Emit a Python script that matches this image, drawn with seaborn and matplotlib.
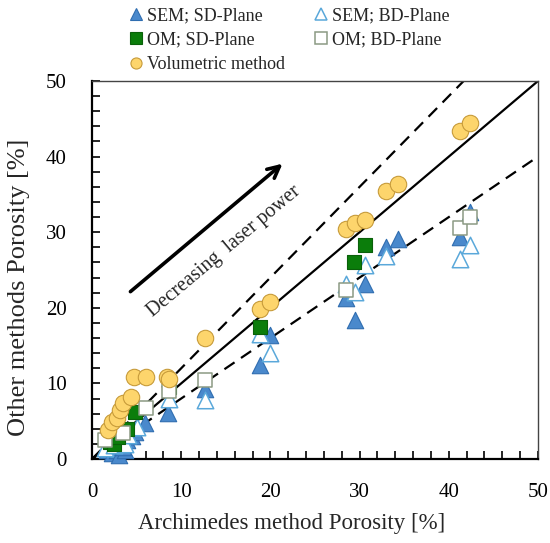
import matplotlib
matplotlib.use("Agg")
import matplotlib.pyplot as plt
import seaborn as sns
import numpy as np
import pandas as pd
from matplotlib.ticker import MultipleLocator

sns.set_theme(style="white")
plt.rcParams['font.family'] = ['Liberation Serif', 'DejaVu Serif']

# ---- data ----
sem_sd_x = [1.7, 2.2, 2.8, 3.0, 3.7, 3.5, 3.9, 4.5, 4.8, 5.9, 8.5, 12.7, 18.8, 20.0, 28.5, 29.5, 30.6, 33.0, 34.3, 41.3, 42.4]
sem_sd_y = [1.2, 0.8, 1.2, 0.5, 1.2, 1.6, 2.5, 3.0, 3.6, 4.8, 6.1, 9.3, 12.4, 16.4, 21.3, 18.4, 23.2, 28.1, 29.1, 29.3, 32.7]

sem_bd_x = [1.5, 2.5, 3.2, 3.7, 4.0, 5.0, 8.6, 12.7, 18.8, 20.0, 28.5, 29.5, 30.6, 33.0, 41.3, 42.4]
sem_bd_y = [1.5, 1.8, 2.5, 2.0, 3.2, 4.2, 8.0, 7.8, 16.6, 14.0, 23.1, 22.1, 25.7, 26.8, 26.5, 28.3]

om_sd_x = [2.0, 2.5, 2.9, 3.9, 4.8, 8.6, 18.8, 29.4, 30.6]
om_sd_y = [2.3, 2.0, 2.9, 4.0, 6.2, 9.5, 17.4, 26.1, 28.3]

om_bd_x = [1.5, 3.5, 6.1, 8.6, 12.7, 28.5, 41.3, 42.4]
om_bd_y = [2.5, 3.5, 6.7, 9.0, 10.4, 22.4, 30.6, 32.0]

vol_x = [1.8, 2.2, 2.8, 3.1, 3.5, 4.4, 4.7, 6.05, 8.4, 8.6, 12.7, 18.8, 20.0, 28.5, 29.5, 30.6, 33.0, 34.3, 41.3, 42.4]
vol_y = [3.8, 4.9, 5.4, 6.5, 7.4, 8.2, 10.9, 10.8, 10.9, 10.6, 16.0, 19.9, 20.8, 30.4, 31.2, 31.6, 35.5, 36.4, 43.4, 44.4]

ref_x = [0, 50]
ref_slopes = [1.0, 1.2, 0.8]

x_label = "Archimedes method Porosity [%]"
y_label = "Other methods Porosity [%]"
annot = "Decreasing  laser power"

# ---- figure ----
fig = plt.figure(figsize=(5.5, 5.43), dpi=100)
ax = fig.add_axes([92/550, 1-459/543, (538-92)/550, (459-81)/543])

# reference lines
for s in ref_slopes:
    xs = np.array(ref_x, dtype=float)
    ls = '-' if s == 1.0 else (0, (5.5, 3.5))
    sns.lineplot(x=xs, y=xs * s, ax=ax, color='black', lw=1.6, linestyle=ls, zorder=2)

series = [
    ("SEM; SD-Plane", sem_sd_x, sem_sd_y, dict(marker='^', s=140, color='#4a89cc', edgecolor='#2f6db0', linewidth=0.8)),
    ("SEM; BD-Plane", sem_bd_x, sem_bd_y, dict(marker='^', s=140, color='white', edgecolor='#5aa8da', linewidth=1.1)),
    ("OM; SD-Plane", om_sd_x, om_sd_y, dict(marker='s', s=110, color='#0b7d0b', edgecolor='#0a600a', linewidth=0.8)),
    ("OM; BD-Plane", om_bd_x, om_bd_y, dict(marker='s', s=110, color='white', edgecolor='#8b9a84', linewidth=1.1)),
    ("Volumetric method", vol_x, vol_y, dict(marker='o', s=140, color='#fdd56c', edgecolor='#c79b3a', linewidth=0.8)),
]

handles = {}
for i, (name, xs, ys, kw) in enumerate(series):
    df = pd.DataFrame({'x': xs, 'y': ys})
    sns.scatterplot(data=df, x='x', y='y', ax=ax, zorder=3 + i, clip_on=False, **kw)
    handles[name] = plt.Line2D([], [], linestyle='none', marker=kw['marker'],
                               markerfacecolor=kw['color'], markeredgecolor=kw['edgecolor'],
                               markeredgewidth=kw['linewidth'], markersize=8)

ax.set_xlim(0, 50)
ax.set_ylim(0, 50)
ax.xaxis.set_major_locator(MultipleLocator(10))
ax.yaxis.set_major_locator(MultipleLocator(10))
ax.xaxis.set_minor_locator(MultipleLocator(2))
ax.yaxis.set_minor_locator(MultipleLocator(2))
ax.tick_params(axis='both', which='both', direction='in', top=False, right=False,
               bottom=True, left=True, colors='black', length=6, width=1.2)
ax.tick_params(axis='x', which='major', labelsize=15, pad=17)
ax.tick_params(axis='y', which='major', labelsize=15, pad=18)
for sp in ax.spines.values():
    sp.set_color('black')
ax.spines['left'].set_linewidth(1.6)
ax.spines['bottom'].set_linewidth(1.6)
ax.spines['top'].set_linewidth(1.0)
ax.spines['right'].set_linewidth(1.0)
ax.spines['top'].set_color('#444444')
ax.spines['right'].set_color('#444444')

ax.set_xlabel(x_label, fontsize=16.5, va='center', ha='center')
ax.set_ylabel(y_label, fontsize=19, va='center', ha='center')
ax.xaxis.set_label_coords((292 - 92) / 446, (459 - 523) / 378)
ax.yaxis.set_label_coords((19 - 92) / 446, (459 - 287) / 378)

ax.annotate('', xy=(21.6, 39.3), xytext=(4.07, 21.9),
            arrowprops=dict(arrowstyle='->,head_length=0.7,head_width=0.35', color='black', lw=2.6))
ax.text(14.8, 27.4, annot, rotation=40, rotation_mode='anchor', ha='center', va='center',
        fontsize=14.5, transform=ax.transData)

order = ["SEM; SD-Plane", "OM; SD-Plane", "Volumetric method", "SEM; BD-Plane", "OM; BD-Plane"]
fig.legend([handles[k] for k in order], order, ncol=2, loc='upper left',
           bbox_to_anchor=(118/550, 1.0), frameon=False, fontsize=13,
           handletextpad=0.0, columnspacing=1.4, labelspacing=0.42, handlelength=1.2,
           borderaxespad=0.0)

fig.savefig("out.png", dpi=100)
